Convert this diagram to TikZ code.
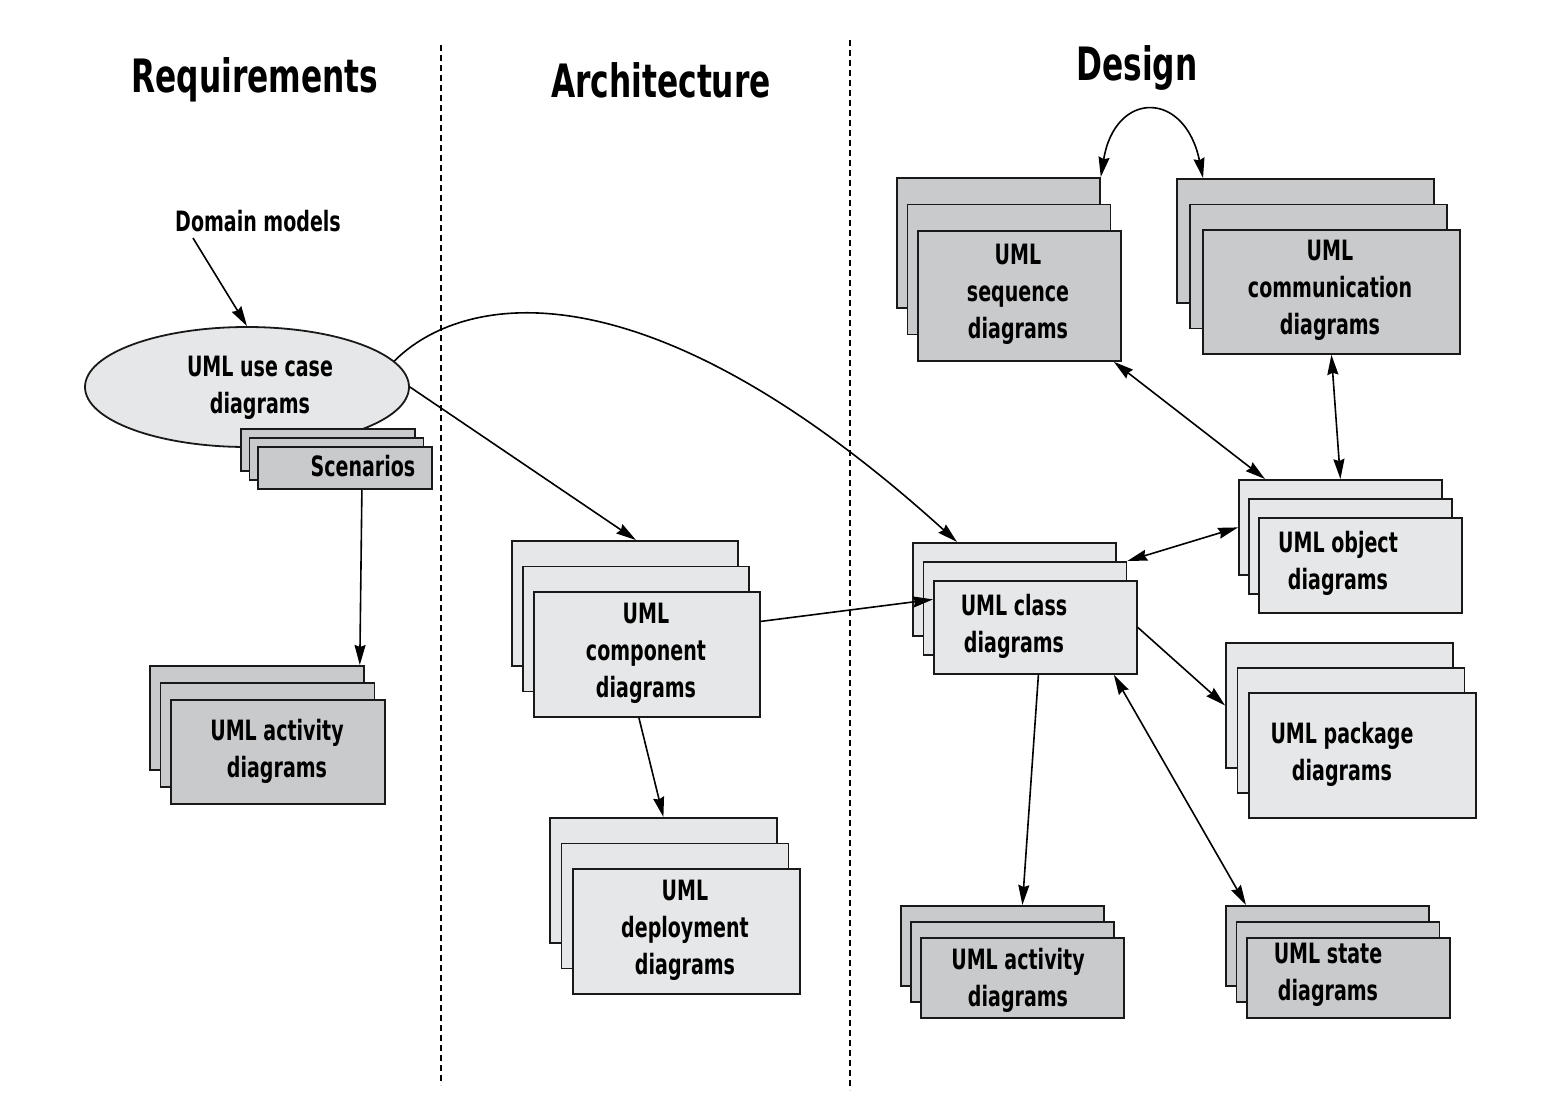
\documentclass[tikz,border=0pt]{standalone}
\usepackage{fontspec}
\setmainfont{DejaVu Sans}[FakeStretch=0.68]
\usetikzlibrary{arrows.meta,shapes.geometric}

\definecolor{sheetdark}{HTML}{C9CACC}
\definecolor{sheetlight}{HTML}{E6E7E8}

\tikzset{
  sheet/.style={draw=black!90,line width=1.8pt,anchor=north west,inner sep=0pt},
  darksheet/.style={sheet,fill=sheetdark},
  lightsheet/.style={sheet,fill=sheetlight},
  lbl/.style={font=\bfseries\fontsize{28}{37}\selectfont,align=center,inner sep=0pt},
  lanetitle/.style={font=\bfseries\fontsize{46}{50}\selectfont,inner sep=0pt},
  tip/.tip={Stealth[length=20pt,width=11pt,inset=2pt]},
  arr/.style={line width=1.6pt,-tip},
  dbl/.style={line width=1.6pt,tip-tip},
  lane/.style={line width=1.4pt,dash pattern=on 6pt off 4pt}
}

% #1 name, #2 style, #3 top left of back sheet, #4 width, #5 height, #6 x step, #7 y step
\newcommand\sheetstack[7]{%
  \node[#2,minimum width=#4pt,minimum height=#5pt] (#1A) at (#3) {};
  \node[#2,minimum width=#4pt,minimum height=#5pt] (#1B) at ([xshift=#6pt,yshift=-#7pt]#1A.north west) {};
  \node[#2,minimum width=#4pt,minimum height=#5pt] (#1) at ([xshift=#6pt,yshift=-#7pt]#1B.north west) {};
}

\begin{document}
\begin{tikzpicture}[x=1pt,y=-1pt]
\useasboundingbox (0,0) rectangle (1546,1102);

% lanes
\draw[lane] (441,45) -- (441,1085);
\draw[lane] (850,40) -- (850,1090);
\node[lanetitle] (req) at (255,80) {Requirements};
\node[lanetitle] (arch) at (661,80) {Architecture};
\node[lanetitle] (des) at (1137,68) {Design};

% requirements
\node[lbl] (dom) at (258,221) {Domain models};
\node[ellipse,draw=black!90,line width=1.8pt,fill=sheetlight,minimum width=324pt,minimum height=120pt,inner sep=0pt] (uc) at (247,387) {};
\node[lbl] (uctxt) at (260,388) {UML use case\\diagrams};
\sheetstack{scen}{darksheet}{240,428}{174}{42}{8.5}{9}
\node[lbl] (scentxt) at (363,466) {Scenarios};
\sheetstack{actl}{darksheet}{149,665}{214}{104}{10.5}{17}
\node[lbl] (actltxt) at (277,751) {UML activity\\diagrams};

% architecture
\sheetstack{comp}{lightsheet}{511,540}{226}{125}{11}{25.5}
\node[lbl] (comptxt) at (646,653) {UML\\component\\diagrams};
\sheetstack{depl}{lightsheet}{549,817}{227}{125}{11.5}{25.5}
\node[lbl] (depltxt) at (685,930) {UML\\deployment\\diagrams};

% design
\sheetstack{seq}{darksheet}{896,177}{203}{130}{10.5}{26.5}
\node[lbl] (seqtxt) at (1018,294) {UML\\sequence\\diagrams};
\sheetstack{comm}{darksheet}{1176,178}{257}{124}{13}{25.5}
\node[lbl] (commtxt) at (1330,290) {UML\\communication\\diagrams};
\sheetstack{class}{lightsheet}{912,542}{203}{93}{10.5}{19}
\node[lbl] (classtxt) at (1014,626) {UML class\\diagrams};
\sheetstack{obj}{lightsheet}{1238,479}{203}{95}{10}{19}
\node[lbl] (objtxt) at (1338,563) {UML object\\diagrams};
\sheetstack{pack}{lightsheet}{1225,642}{227}{125}{11.5}{25}
\node[lbl] (packtxt) at (1342,754) {UML package\\diagrams};
\sheetstack{actd}{darksheet}{900,905}{203}{80}{10}{16}
\node[lbl] (actdtxt) at (1018,980) {UML activity\\diagrams};
\sheetstack{state}{darksheet}{1225,905}{203}{80}{10.5}{16}
\node[lbl] (statetxt) at (1328,975) {UML state\\diagrams};

% connectors
\draw[arr] ([xshift=18pt,yshift=-6pt]dom.south west) -- (uc.north);
\draw[arr] (uc.east) -- ([xshift=11pt]compA.north);
\draw[arr] (uc.10) .. controls (460,295) and (640,255) .. ([xshift=45pt]classA.north west);
\draw[arr] ([xshift=17pt]scen.south) -- ([xshift=-5pt]actlA.north east);
\draw[arr] ([xshift=-8pt]comp.south) -- (deplA.north);
\draw[arr] ([yshift=33pt]comp.east) -- ([yshift=28pt]class.west);
\draw[dbl] (seqA.north east) .. controls (1115,90) and (1185,90) .. ([xshift=27pt]commA.north west);
\draw[dbl] ([xshift=-8pt]seq.south east) -- ([xshift=27pt]objA.north west);
\draw[dbl] (comm.south) -- (objA.north);
\draw[dbl] (classB.north east) -- (objA.west);
\draw[arr] (class.east) -- (packA.west);
\draw[arr] ([xshift=3pt]class.south) -- ([xshift=20pt]actdA.north);
\draw[dbl] ([xshift=-24pt]class.south east) -- ([xshift=21pt]stateA.north west);
\end{tikzpicture}
\end{document}
